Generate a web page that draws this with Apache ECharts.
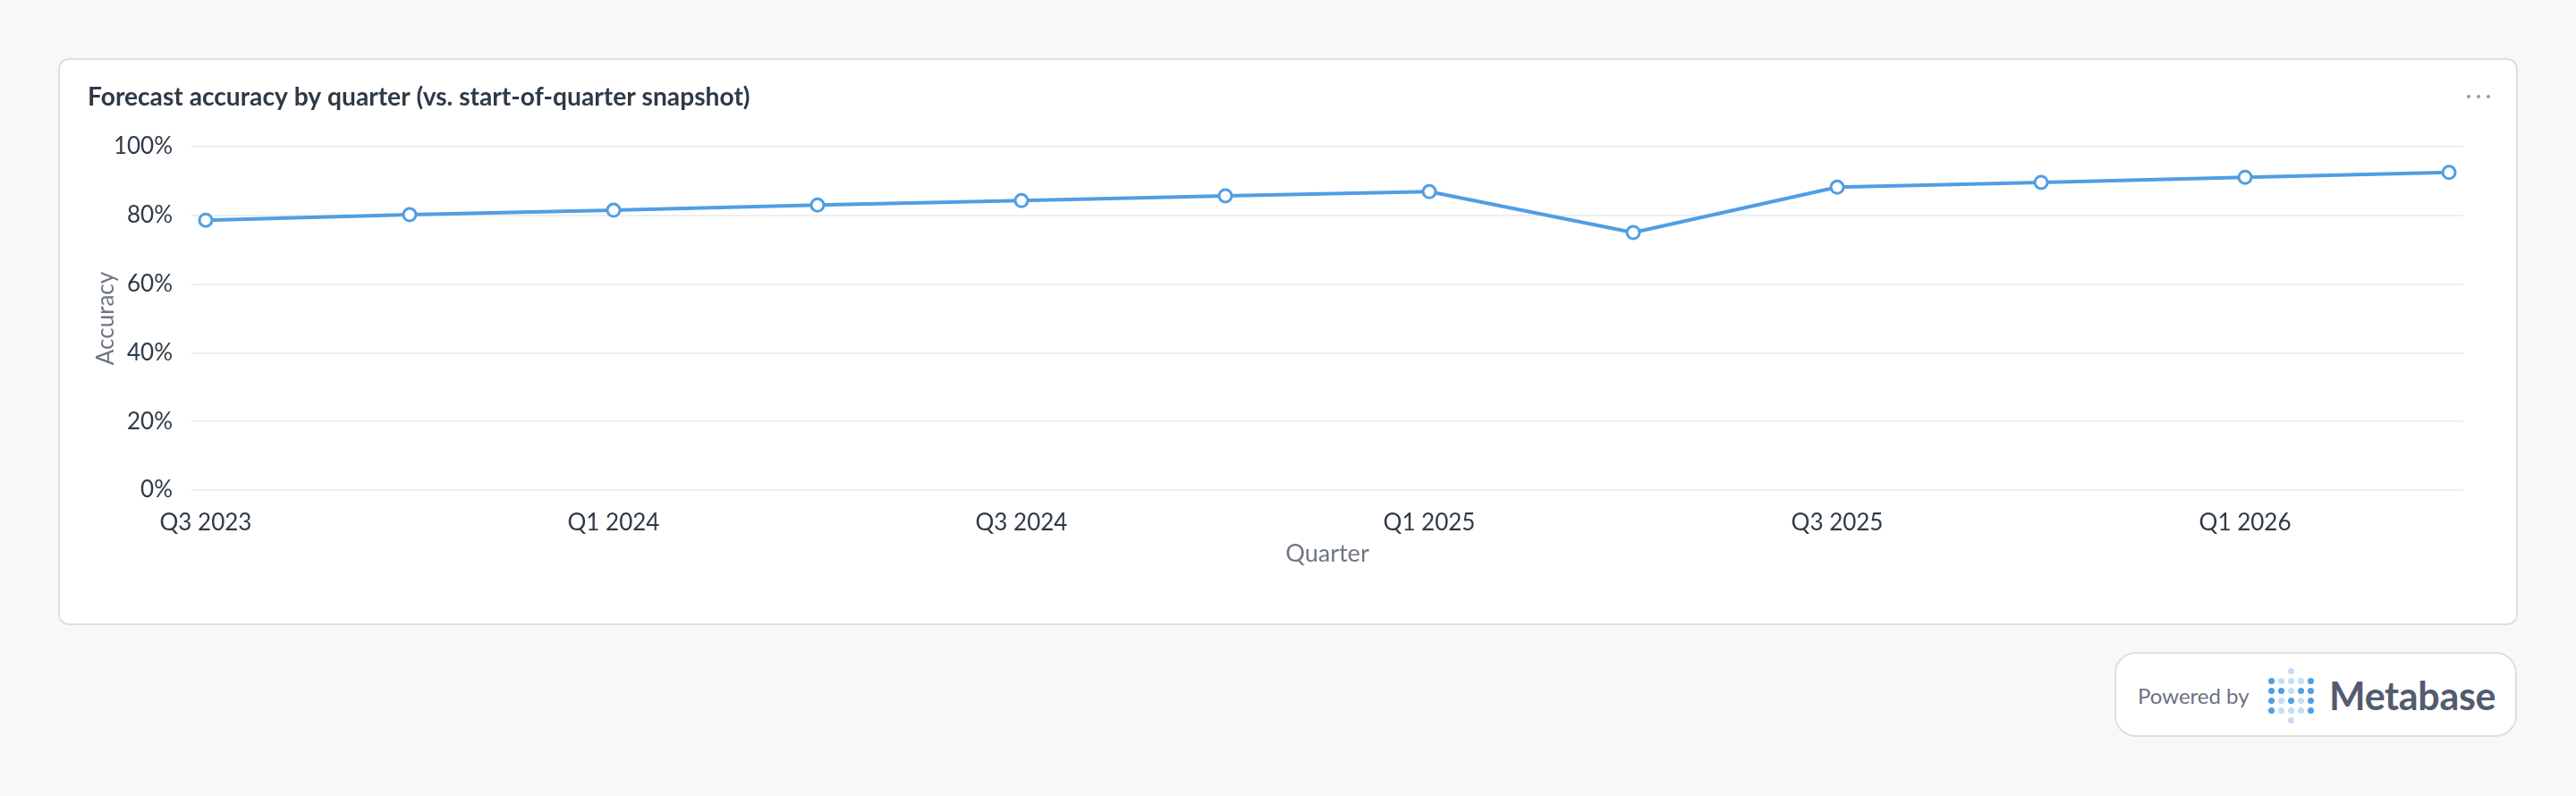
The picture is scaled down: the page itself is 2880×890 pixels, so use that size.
<!DOCTYPE html>
<html>
<head>
<meta charset="utf-8">
<script src="https://cdn.jsdelivr.net/npm/echarts@6/dist/echarts.min.js"></script>
<style>
  html, body { margin: 0; padding: 0; width: 2880px; height: 890px; background: #F8F8F8; overflow: hidden; font-family: Lato, "Noto Sans", sans-serif; }
  #card { position: absolute; left: 65px; top: 65px; width: 2746px; height: 630px; background: #fff; border: 2px solid #DDDFE1; border-radius: 12px; box-sizing: content-box; }
  #chart { position: absolute; left: 0; top: 0; width: 2880px; height: 890px; }
  .dot3 { position: absolute; width: 4px; height: 4px; border-radius: 50%; background: #949AAB; top: 106px; }
  #badge { position: absolute; left: 2364px; top: 729px; width: 446px; height: 91px; background: #fff; border: 2px solid #DDDFE1; border-radius: 24px; }
  #powered { position: absolute; left: 2390px; top: 762px; font-size: 24px; line-height: 32px; color: #6B7280; font-family: Lato, sans-serif; white-space: nowrap; }
  #mbtext { position: absolute; left: 2604px; top: 750px; font-size: 43px; line-height: 56px; color: #535B6F; font-weight: 700; font-family: Lato, sans-serif; white-space: nowrap; letter-spacing: -0.3px; }
  .ld { position: absolute; width: 7px; height: 7px; border-radius: 50%; }
</style>
</head>
<body>
<div id="card"></div>
<div class="dot3" style="left:2758px"></div>
<div class="dot3" style="left:2769px"></div>
<div class="dot3" style="left:2780px"></div>
<div id="chart"></div>
<div id="badge"></div>
<div id="powered">Powered by</div>
<div id="logo"></div>
<div id="mbtext">Metabase</div>
<script>
// ---- data ----
const categories = ["Q3 2023","Q4 2023","Q1 2024","Q2 2024","Q3 2024","Q4 2024","Q1 2025","Q2 2025","Q3 2025","Q4 2025","Q1 2026","Q2 2026"];
const accuracy = [78.6, 80.2, 81.5, 83.0, 84.3, 85.7, 86.9, 75.0, 88.2, 89.6, 91.1, 92.5];
const yTicks = [0, 20, 40, 60, 80, 100];
const labelIdx = [0, 2, 4, 6, 8, 10];
const chartTitle = "Forecast accuracy by quarter (vs. start-of-quarter snapshot)";

// ---- logo (decoration) ----
const B = "#509EE3", L = "#C7DDF3";
const logoRows = [
  [null, null, L, null, null],
  [B, L, L, L, B],
  [B, B, L, B, B],
  [B, L, B, L, B],
  [B, L, L, L, B],
  [null, null, L, null, null]
];
const logoY = [750, 761, 772, 783, 794, 805];
const logoX = [2539.5, 2550.5, 2561.5, 2572.5, 2583.5];
const logo = document.getElementById('logo');
logoRows.forEach((row, r) => row.forEach((c, k) => {
  if (!c) return;
  const d = document.createElement('div');
  d.className = 'ld';
  d.style.background = c;
  d.style.left = (logoX[k] - 3.5) + 'px';
  d.style.top = (logoY[r] - 3.5) + 'px';
  logo.appendChild(d);
}));

// ---- chart ----
const chart = echarts.init(document.getElementById('chart'), null, { renderer: 'canvas' });
const seriesData = accuracy.map((v, i) => [i, v]);
const option = {
  backgroundColor: 'transparent',
  animation: false,
  title: {
    text: chartTitle,
    left: 98,
    top: 95,
    padding: 0,
    textStyle: { fontFamily: 'Lato', fontWeight: 700, fontSize: 28.2, color: '#2E3A46' }
  },
  grid: { left: 214, right: 126, top: 164, bottom: 342, containLabel: false },
  xAxis: {
    type: 'value',
    min: -0.07,
    max: 11.07,
    name: 'Quarter',
    nameLocation: 'middle',
    nameGap: 58,
    nameMoveOverlap: false,
    nameTextStyle: { fontFamily: 'Lato', fontSize: 27, color: '#6F7682' },
    axisLine: { show: false },
    axisTick: { show: false },
    splitLine: { show: false },
    axisLabel: {
      customValues: labelIdx,
      formatter: v => categories[Math.round(v)] || '',
      margin: 24,
      fontFamily: 'Lato', fontSize: 26, color: '#2E3A46'
    }
  },
  yAxis: {
    type: 'value',
    min: 0, max: 100, interval: 20,
    name: 'Accuracy',
    nameLocation: 'middle',
    nameRotate: 90,
    nameGap: 82,
    nameMoveOverlap: false,
    nameTextStyle: { fontFamily: 'Lato', fontSize: 26, color: '#6F7682' },
    axisLine: { show: false },
    axisTick: { show: false },
    axisLabel: { formatter: '{value}%', margin: 21, fontFamily: 'Lato', fontSize: 26, color: '#2E3A46' },
    splitLine: { lineStyle: { color: '#EDEEF0', width: 2 } }
  },
  series: [{
    type: 'line',
    data: seriesData,
    symbol: 'circle',
    symbolSize: 14,
    lineStyle: { color: '#509EE3', width: 4 },
    itemStyle: { color: '#ffffff', borderColor: '#509EE3', borderWidth: 3 },
    z: 3
  }]
};
chart.setOption(option);
</script>
</body>
</html>
